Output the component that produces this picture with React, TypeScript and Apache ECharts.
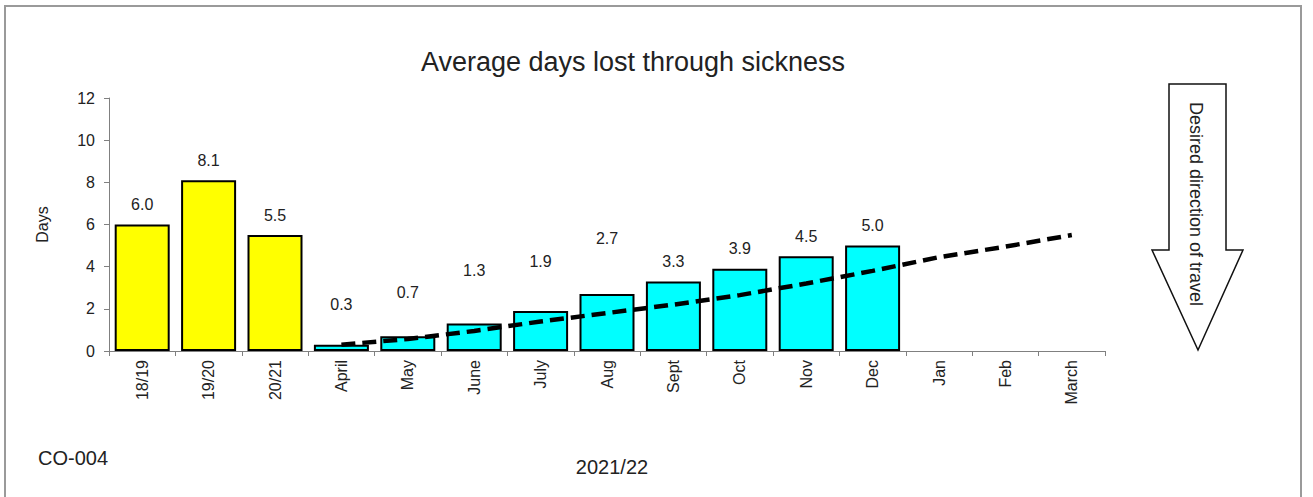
import React, { useEffect, useRef } from "react";
import * as echarts from "echarts";

const categories = ["18/19", "19/20", "20/21", "April", "May", "June", "July", "Aug", "Sept", "Oct", "Nov", "Dec", "Jan", "Feb", "March"];
const annualValues = [6.0, 8.1, 5.5];
const monthlyValues = [0.3, 0.7, 1.3, 1.9, 2.7, 3.3, 3.9, 4.5, 5.0];
const targetValues = [null, null, null, 0.3, 0.57, 0.95, 1.4, 1.8, 2.2, 2.65, 3.2, 3.8, 4.45, 4.95, 5.5];
const yTicks = { min: 0, max: 12, interval: 2 };

// style: extra upward shift (px) for some data labels, as in the original
const labelLift = [0, 0, 0, 20, 24, 33, 29, 36, 0, 0, 0, 0, 0, 0, 0];

const FONT = "'Liberation Sans', Arial, sans-serif";
const TEXT = "#222";
const AXIS = "#808080";

export default function App() {
  const ref = useRef<HTMLDivElement>(null);
  useEffect(() => {
    const chart = echarts.init(ref.current!, null, { renderer: "svg" });
    const allValues = [...annualValues, ...monthlyValues];
    const barData = categories.map((c, i) => {
      const v = i < allValues.length ? allValues[i] : null;
      if (v === null) return null;
      return {
        value: v,
        itemStyle: { color: i < annualValues.length ? "#FFFF00" : "#00FFFF" },
        label: { offset: [0, -labelLift[i]] },
      };
    });
    chart.setOption({
      animation: false,
      backgroundColor: "#fff",
      title: {
        text: "Average days lost through sickness",
        left: 628,
        top: 43,
        textAlign: "center",
        textStyle: { fontFamily: FONT, fontSize: 27, fontWeight: "normal", color: TEXT },
      },
      grid: { left: 109, right: 208, top: 98, bottom: 146 },
      xAxis: {
        type: "category",
        data: categories,
        boundaryGap: true,
        axisLine: { lineStyle: { color: AXIS, width: 1 } },
        axisTick: { show: true, alignWithLabel: false, length: 5, lineStyle: { color: AXIS } },
        axisLabel: { rotate: 90, margin: 9, fontFamily: FONT, fontSize: 16, color: TEXT, interval: 0 },
      },
      yAxis: {
        type: "value",
        min: yTicks.min,
        max: yTicks.max,
        interval: yTicks.interval,
        name: "Days",
        nameLocation: "middle",
        nameGap: 59,
        nameTextStyle: { fontFamily: FONT, fontSize: 16, color: TEXT },
        splitLine: { show: false },
        axisLine: { show: true, lineStyle: { color: AXIS, width: 1 } },
        axisTick: { show: true, length: 5, lineStyle: { color: AXIS } },
        axisLabel: { margin: 14, fontFamily: FONT, fontSize: 16, color: TEXT },
      },
      series: [
        {
          type: "bar",
          data: barData,
          barWidth: 55,
          itemStyle: { borderColor: "#000", borderWidth: 2 },
          label: {
            show: true,
            position: "top",
            distance: 12,
            formatter: (p: any) => Number(p.value).toFixed(1),
            fontFamily: FONT,
            fontSize: 16,
            color: TEXT,
          },
        },
        {
          type: "line",
          data: targetValues,
          showSymbol: false,
          symbol: "none",
          lineStyle: { color: "#000", width: 4.5, type: [14, 7], cap: "butt" },
          z: 5,
        },
      ],
      graphic: [
        {
          type: "rect",
          shape: { x: 5, y: 6, width: 1296, height: 500 },
          style: { fill: "none", stroke: "#9a9a9a", lineWidth: 2 },
          silent: true,
        },
        {
          type: "polygon",
          shape: {
            points: [
              [1169, 84], [1226, 84], [1226, 250], [1243, 250], [1198, 350], [1152, 250], [1169, 250],
            ],
          },
          style: { fill: "#fff", stroke: "#111", lineWidth: 1.5 },
        },
        {
          type: "text",
          x: 1196,
          y: 204,
          rotation: -Math.PI / 2,
          style: {
            text: "Desired direction of travel",
            fontFamily: FONT,
            fontSize: 18,
            fill: TEXT,
            align: "center",
            verticalAlign: "middle",
          },
        },
        {
          type: "text",
          x: 38,
          y: 458,
          style: { text: "CO-004", fontFamily: FONT, fontSize: 20, fill: TEXT, align: "left", verticalAlign: "middle" },
        },
        {
          type: "text",
          x: 612,
          y: 467,
          style: { text: "2021/22", fontFamily: FONT, fontSize: 20, fill: TEXT, align: "center", verticalAlign: "middle" },
        },
      ],
    });
    return () => chart.dispose();
  }, []);
  return <div ref={ref} style={{ position: "fixed", left: 0, top: 0, width: 1313, height: 497 }} />;
}
